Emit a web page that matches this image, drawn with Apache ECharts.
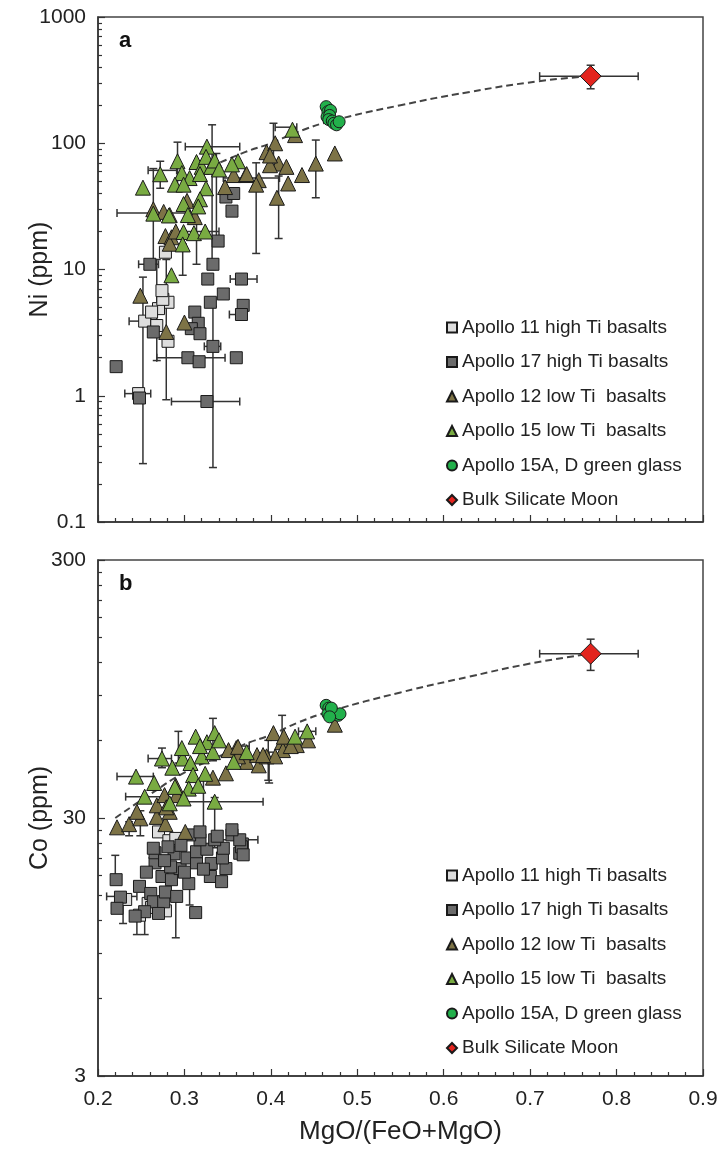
<!DOCTYPE html>
<html>
<head>
<meta charset="utf-8">
<title>Ni and Co vs MgO/(FeO+MgO)</title>
<script src="https://cdn.jsdelivr.net/npm/echarts@6/dist/echarts.min.js"></script>
<style>
  html, body { margin: 0; padding: 0; background: #fff; }
  #box { width: 728px; height: 1152px; }
</style>
</head>
<body>
<div id="box"></div>
<script>
// legend names
const names = [
  'Apollo 11 high Ti basalts',
  'Apollo 17 high Ti basalts',
  'Apollo 12 low Ti  basalts',
  'Apollo 15 low Ti  basalts',
  'Apollo 15A, D green glass',
  'Bulk Silicate Moon'
]

// x axis
const xMin = 0.2
const xMax = 0.9

// panel a : Ni (ppm)
const niTicks = [0.1, 1, 10, 100, 1000]
const niMinor = [0.2, 0.3, 0.4, 0.5, 0.6, 0.7, 0.8, 0.9, 2, 3, 4, 5, 6, 7, 8, 9,
  20, 30, 40, 50, 60, 70, 80, 90, 200, 300, 400, 500, 600, 700, 800, 900]

const a11Ni = [
  [0.281, 5.5], [0.270, 4.9], [0.254, 3.9], [0.281, 2.7], [0.247, 1.04],
  [0.275, 5.8], [0.262, 4.6], [0.274, 6.8], [0.278, 13.7], [0.268, 3.6]
]
const a17Ni = [
  [0.348, 37.5], [0.357, 40], [0.355, 29], [0.339, 16.8], [0.333, 11],
  [0.327, 8.4], [0.366, 8.4], [0.345, 6.4], [0.260, 11], [0.330, 5.5],
  [0.368, 5.2], [0.366, 4.4], [0.312, 4.6], [0.316, 3.75], [0.308, 3.4],
  [0.318, 3.1], [0.264, 3.2], [0.333, 2.46], [0.304, 2.0], [0.317, 1.86],
  [0.360, 2.0], [0.221, 1.7], [0.248, 0.96], [0.326, 0.9]
]
const a12Ni = [
  [0.347, 45], [0.357, 56], [0.371, 56], [0.386, 51], [0.383, 47],
  [0.395, 85], [0.405, 100], [0.409, 69], [0.418, 65], [0.428, 116],
  [0.420, 48], [0.407, 37], [0.399, 67], [0.264, 30], [0.276, 28.6],
  [0.283, 27], [0.278, 18.4], [0.285, 18], [0.283, 16], [0.312, 26],
  [0.303, 35], [0.399, 80], [0.436, 56], [0.452, 69], [0.474, 83],
  [0.372, 57], [0.249, 6.2], [0.279, 3.2], [0.300, 3.8], [0.290, 20]
]
const a15Ni = [
  [0.252, 44.5], [0.272, 56.8], [0.292, 72], [0.297, 58], [0.306, 53],
  [0.289, 47], [0.299, 47], [0.314, 71], [0.320, 65], [0.326, 94],
  [0.325, 78], [0.331, 65], [0.335, 73], [0.318, 57], [0.325, 44],
  [0.318, 36], [0.299, 33], [0.316, 31.6], [0.264, 27.7], [0.282, 26.8],
  [0.304, 27], [0.299, 19.8], [0.311, 19.4], [0.324, 20], [0.298, 15.8],
  [0.362, 72], [0.355, 68], [0.425, 128], [0.285, 9], [0.340, 62]
]
const ggNi = [
  [0.464, 195], [0.466, 178], [0.469, 182], [0.465, 162], [0.468, 166],
  [0.467, 154], [0.471, 150], [0.473, 144], [0.476, 140], [0.479, 148]
]
const bsmNi = [[0.77, 340]]
const curveNi = [
  [0.33, 65], [0.37, 85], [0.40, 100], [0.43, 122], [0.47, 150],
  [0.55, 200], [0.63, 255], [0.71, 310], [0.77, 340]
]
// error bars: [y, xlo, xhi] and [x, ylo, yhi]
const xErrNi = [
  [94, 0.301, 0.364], [28, 0.222, 0.305], [134, 0.405, 0.43], [61, 0.258, 0.291],
  [53, 0.345, 0.41], [20, 0.298, 0.34], [11, 0.247, 0.27], [8.4, 0.353, 0.384],
  [3.9, 0.236, 0.261], [2.0, 0.268, 0.347], [1.04, 0.231, 0.261], [0.9, 0.285, 0.364],
  [2.46, 0.323, 0.342], [4.4, 0.352, 0.368], [340, 0.711, 0.825]
]
const yErrNi = [
  [0.333, 0.27, 5.1], [0.252, 0.29, 8.7], [0.279, 0.93, 12], [0.268, 1.9, 12],
  [0.332, 10, 140], [0.383, 13.4, 70], [0.409, 17.6, 55], [0.452, 37, 106],
  [0.403, 70, 144], [0.292, 42, 102], [0.264, 11, 63], [0.272, 44, 72],
  [0.314, 11, 24.5], [0.298, 9, 16], [0.337, 17, 83], [0.77, 270, 415]
]

// panel b : Co (ppm)
const coTicks = [3, 30, 300]
const coMinor = [6, 9, 12, 15, 18, 21, 24, 27, 60, 90, 120, 150, 180, 210, 240, 270]

const b11Co = [
  [0.248, 12.6], [0.278, 13.1], [0.258, 14], [0.232, 14.5], [0.270, 26.5],
  [0.282, 24.5], [0.262, 13.5], [0.290, 25]
]
const b17Co = [
  [0.221, 17.3], [0.226, 14.8], [0.222, 13.4], [0.248, 16.3], [0.261, 15.3],
  [0.264, 14.2], [0.254, 13.0], [0.276, 14.2], [0.278, 15.5], [0.291, 14.9],
  [0.274, 17.8], [0.285, 17.3], [0.305, 16.7], [0.295, 19.1], [0.284, 19.4],
  [0.266, 20.1], [0.266, 22], [0.288, 21.8], [0.303, 21], [0.314, 20.1],
  [0.314, 22.2], [0.326, 22.7], [0.331, 20], [0.330, 17.8], [0.343, 17],
  [0.348, 19.1], [0.344, 21], [0.345, 22.9], [0.364, 21.9], [0.367, 23.8],
  [0.313, 12.9], [0.335, 24.7], [0.355, 25.8], [0.366, 23.2], [0.368, 21.6],
  [0.318, 24.7], [0.306, 25.8], [0.264, 22.9], [0.281, 23.2], [0.318, 26.5],
  [0.364, 24.7], [0.355, 27], [0.296, 23.5], [0.277, 20.5], [0.256, 18.5],
  [0.243, 12.5], [0.270, 12.8], [0.300, 18.5], [0.322, 19], [0.338, 25.5]
]
const b12Co = [
  [0.222, 27.6], [0.236, 28.4], [0.249, 29.9], [0.245, 31.7], [0.268, 30.3],
  [0.278, 28.4], [0.268, 33.6], [0.277, 36.8], [0.283, 31.7], [0.291, 36.8],
  [0.301, 26.5], [0.333, 43], [0.348, 44.7], [0.360, 56], [0.372, 49.5],
  [0.386, 48], [0.384, 52.6], [0.403, 64], [0.413, 59], [0.414, 55],
  [0.395, 52], [0.405, 52], [0.351, 55], [0.362, 52], [0.474, 69],
  [0.443, 60], [0.430, 57.5], [0.391, 52.6], [0.362, 56.6], [0.279, 33],
  [0.290, 40], [0.415, 62], [0.423, 57]
]
const b15Co = [
  [0.244, 43.4], [0.265, 41], [0.254, 36.3], [0.274, 51], [0.286, 47],
  [0.298, 51], [0.313, 62], [0.307, 49], [0.320, 52], [0.326, 59],
  [0.335, 64], [0.333, 54], [0.310, 44], [0.324, 44.5], [0.305, 39],
  [0.289, 39.6], [0.299, 35.7], [0.283, 34.2], [0.316, 40], [0.335, 34.7],
  [0.357, 49.5], [0.372, 54], [0.428, 62], [0.442, 65], [0.297, 56],
  [0.340, 60], [0.318, 57]
]
const ggCo = [
  [0.464, 82], [0.467, 80], [0.469, 78], [0.466, 76], [0.471, 77],
  [0.474, 76], [0.478, 75], [0.480, 76], [0.470, 80], [0.468, 74]
]
const bsmCo = [[0.77, 130]]
const curveCo = [
  [0.22, 30], [0.26, 37], [0.30, 45], [0.34, 52], [0.37, 58], [0.40, 63],
  [0.43, 70], [0.47, 78], [0.55, 92], [0.63, 106], [0.70, 119], [0.77, 130]
]
const xErrCo = [
  [43.4, 0.222, 0.264], [36.3, 0.232, 0.28], [34.7, 0.303, 0.391], [51, 0.258, 0.285],
  [24.7, 0.33, 0.385], [65, 0.432, 0.452], [57, 0.36, 0.375], [14.9, 0.21, 0.245],
  [130, 0.711, 0.825]
]
const yErrCo = [
  [0.333, 50, 73], [0.397, 42, 60], [0.413, 57, 75], [0.322, 23, 42],
  [0.335, 23, 36], [0.274, 47, 56], [0.293, 49, 65], [0.249, 25.6, 32],
  [0.236, 25.6, 29], [0.398, 41, 54], [0.220, 17.3, 21.5], [0.229, 11.7, 14.8],
  [0.245, 10.6, 13], [0.254, 10.6, 13], [0.290, 10.3, 15], [0.306, 13.8, 16.7],
  [0.77, 112, 148]
]

const font = 'Liberation Sans, Arial, Helvetica, sans-serif'
const ink = '#222'
const styles = [
  { symbol: 'rect', size: 12, color: '#dedede' },
  { symbol: 'rect', size: 12, color: '#6b6b6b' },
  { symbol: 'triangle', size: 15, color: '#7d7346' },
  { symbol: 'triangle', size: 15, color: '#79ab42' },
  { symbol: 'circle', size: 12, color: '#22b04b' },
  { symbol: 'diamond', size: 21, color: '#e3241e' }
]

function dots (i, data, gi) {
  const s = styles[i]
  return {
    name: names[i],
    type: 'scatter',
    xAxisIndex: gi,
    yAxisIndex: gi * 2,
    data: data,
    symbol: s.symbol,
    symbolSize: s.size,
    z: i >= 4 ? 5 : 4,
    itemStyle: { color: s.color, borderColor: '#1a1a1a', borderWidth: 1, opacity: 1 },
    emphasis: { disabled: true }
  }
}

function cap (x1, y1, x2, y2) {
  return { type: 'line', shape: { x1, y1, x2, y2 }, style: { stroke: '#333', lineWidth: 1.5 } }
}

// horizontal bars, data [y, lo, hi]
function xBars (data, gi) {
  return {
    type: 'custom',
    name: 'xerr' + gi,
    xAxisIndex: gi,
    yAxisIndex: gi * 2,
    data: data,
    encode: { x: [1, 2], y: 0 },
    z: 2,
    silent: true,
    renderItem (params, api) {
      const p1 = api.coord([api.value(1), api.value(0)])
      const p2 = api.coord([api.value(2), api.value(0)])
      return {
        type: 'group',
        children: [
          cap(p1[0], p1[1], p2[0], p2[1]),
          cap(p1[0], p1[1] - 4, p1[0], p1[1] + 4),
          cap(p2[0], p2[1] - 4, p2[0], p2[1] + 4)
        ]
      }
    }
  }
}

// vertical bars, data [x, lo, hi]
function yBars (data, gi) {
  return {
    type: 'custom',
    name: 'yerr' + gi,
    xAxisIndex: gi,
    yAxisIndex: gi * 2,
    data: data,
    encode: { x: 0, y: [1, 2] },
    z: 2,
    silent: true,
    renderItem (params, api) {
      const p1 = api.coord([api.value(0), api.value(1)])
      const p2 = api.coord([api.value(0), api.value(2)])
      return {
        type: 'group',
        children: [
          cap(p1[0], p1[1], p2[0], p2[1]),
          cap(p1[0] - 4, p1[1], p1[0] + 4, p1[1]),
          cap(p2[0] - 4, p2[1], p2[0] + 4, p2[1])
        ]
      }
    }
  }
}

function curve (data, gi) {
  return {
    type: 'line',
    name: 'curve' + gi,
    xAxisIndex: gi,
    yAxisIndex: gi * 2,
    data: data,
    smooth: true,
    showSymbol: false,
    z: 3,
    silent: true,
    lineStyle: { color: '#444', width: 2, type: [7, 4] }
  }
}

function xAxisOf (gi, labels) {
  return {
    gridIndex: gi,
    type: 'value',
    min: xMin,
    max: xMax,
    interval: 0.1,
    name: labels ? 'MgO/(FeO+MgO)' : '',
    nameLocation: 'middle',
    nameMoveOverlap: false,
    nameGap: 43,
    nameTextStyle: { fontSize: 26, color: ink, fontFamily: font },
    axisLine: { lineStyle: { color: '#333', width: 1.5 } },
    axisTick: { inside: true, length: 7, lineStyle: { color: '#333', width: 1.2 } },
    minorTick: { show: true, splitNumber: 5, length: 4, lineStyle: { color: '#333', width: 1.2 } },
    axisLabel: { show: labels, margin: 13, fontSize: 21, color: ink, fontFamily: font },
    splitLine: { show: false }
  }
}

const fmt = v => String(+Number(v).toPrecision(6))

function yAxisOf (gi, min, max, ticks, title) {
  return {
    gridIndex: gi,
    type: 'log',
    logBase: 10,
    min: min,
    max: max,
    position: 'left',
    name: title,
    nameLocation: 'middle',
    nameMoveOverlap: false,
    nameGap: 45,
    nameTextStyle: { fontSize: 25, color: ink, fontFamily: font },
    axisLine: { lineStyle: { color: '#333', width: 1.5 } },
    axisTick: { inside: true, length: 7, customValues: ticks, lineStyle: { color: '#333', width: 1.2 } },
    axisLabel: { customValues: ticks, formatter: fmt, margin: 12, fontSize: 21, color: ink, fontFamily: font },
    splitLine: { show: false }
  }
}

function yMinorOf (gi, min, max, ticks) {
  return {
    gridIndex: gi,
    type: 'log',
    logBase: 10,
    min: min,
    max: max,
    position: 'left',
    axisLine: { show: false },
    axisTick: { inside: true, length: 4, customValues: ticks, lineStyle: { color: '#333', width: 1.2 } },
    axisLabel: { show: false },
    splitLine: { show: false }
  }
}

function legendOf (top) {
  return {
    data: names,
    orient: 'vertical',
    left: 441,
    top: top,
    itemGap: 15.5,
    itemWidth: 10,
    itemHeight: 10,
    selectedMode: false,
    textStyle: { fontSize: 19, color: ink, fontFamily: font }
  }
}

const chart = echarts.init(document.getElementById('box'))
chart.setOption({
  animation: false,
  backgroundColor: '#fff',
  textStyle: { fontFamily: font },
  title: [
    { text: 'a', left: 114, top: 25, textStyle: { fontSize: 22, fontWeight: 'bold', color: '#111', fontFamily: font } },
    { text: 'b', left: 114, top: 568, textStyle: { fontSize: 22, fontWeight: 'bold', color: '#111', fontFamily: font } }
  ],
  legend: [legendOf(313), legendOf(861)],
  grid: [
    { left: 98, top: 17, width: 605, height: 505, show: true, borderColor: '#444', borderWidth: 1.5 },
    { left: 98, top: 560, width: 605, height: 516, show: true, borderColor: '#444', borderWidth: 1.5 }
  ],
  xAxis: [xAxisOf(0, false), xAxisOf(1, true)],
  yAxis: [
    yAxisOf(0, 0.1, 1000, niTicks, 'Ni (ppm)'),
    yMinorOf(0, 0.1, 1000, niMinor),
    yAxisOf(1, 3, 300, coTicks, 'Co (ppm)'),
    yMinorOf(1, 3, 300, coMinor)
  ],
  series: [
    xBars(xErrNi, 0), yBars(yErrNi, 0), curve(curveNi, 0),
    dots(0, a11Ni, 0), dots(1, a17Ni, 0), dots(2, a12Ni, 0), dots(3, a15Ni, 0),
    dots(4, ggNi, 0), dots(5, bsmNi, 0),
    xBars(xErrCo, 1), yBars(yErrCo, 1), curve(curveCo, 1),
    dots(0, b11Co, 1), dots(1, b17Co, 1), dots(2, b12Co, 1), dots(3, b15Co, 1),
    dots(4, ggCo, 1), dots(5, bsmCo, 1)
  ]
})
</script>
</body>
</html>
